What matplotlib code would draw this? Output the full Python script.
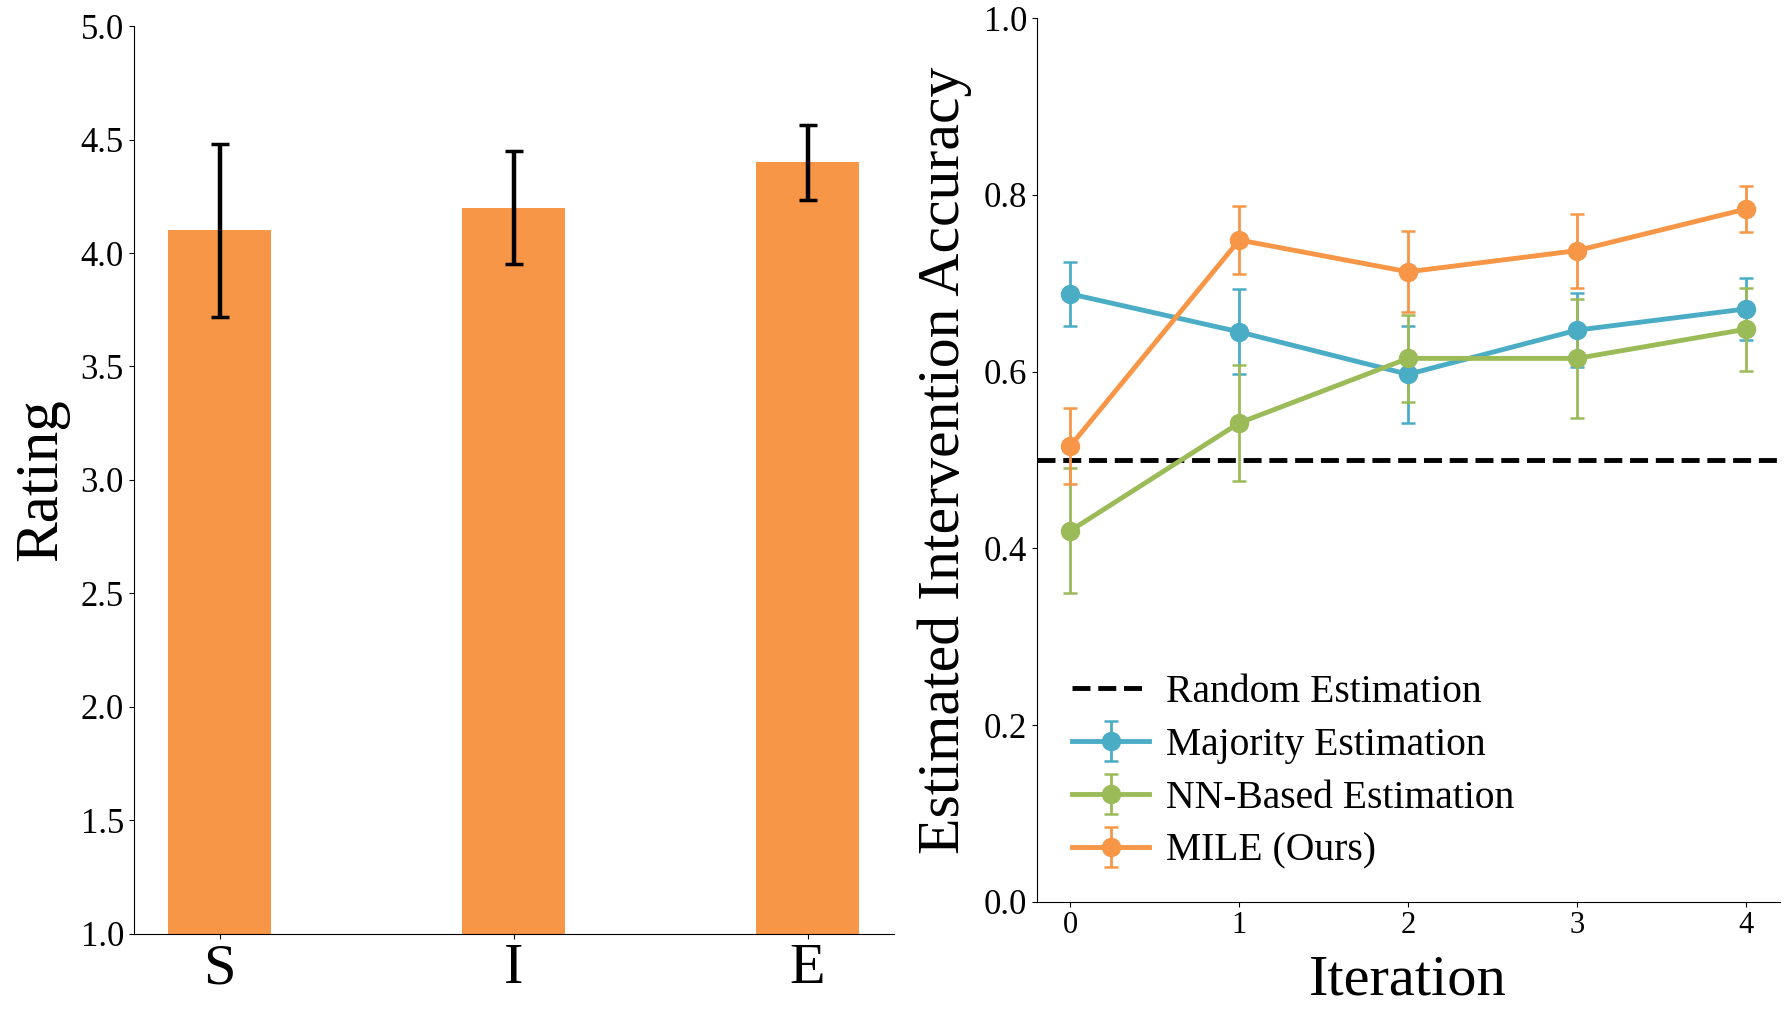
import matplotlib
matplotlib.use('Agg')
import matplotlib.pyplot as plt
import numpy as np

plt.rcParams['font.family'] = ['Liberation Serif', 'DejaVu Serif']

# left panel: user ratings
categories = ['S', 'I', 'E']
ratings = [4.1, 4.2, 4.4]
rating_err = [0.38, 0.25, 0.165]

# right panel: estimated intervention accuracy per iteration
iterations = [0, 1, 2, 3, 4]
random_est = 0.5
majority = [0.688, 0.645, 0.597, 0.647, 0.671]
majority_err = [0.036, 0.048, 0.055, 0.042, 0.035]
nn_based = [0.420, 0.542, 0.615, 0.615, 0.648]
nn_err = [0.071, 0.066, 0.049, 0.067, 0.047]
mile = [0.516, 0.749, 0.713, 0.737, 0.784]
mile_err = [0.043, 0.038, 0.046, 0.042, 0.026]

orange = '#F79646'
blue = '#4BACC6'
green = '#9BBB59'

fig = plt.figure(figsize=(17.92, 10.14), dpi=100)

ax1 = fig.add_axes([0.0746, 0.0792, 0.4241, 0.895])
x = np.arange(len(categories))
ax1.bar(x, ratings, width=0.35, color=orange, yerr=rating_err,
        error_kw=dict(ecolor='black', elinewidth=3.2, capsize=6.5, capthick=2.5),
        bottom=0)
ax1.set_ylim(1, 5)
ax1.set_yticks(np.arange(1.0, 5.01, 0.5))
ax1.set_yticklabels(['%.1f' % v for v in np.arange(1.0, 5.01, 0.5)], fontsize=25)
ax1.set_xticks(x)
ax1.set_xticklabels(categories, fontsize=42)
ax1.set_ylabel('Rating', fontsize=44, labelpad=8)
ax1.spines['top'].set_visible(False)
ax1.spines['right'].set_visible(False)

ax2 = fig.add_axes([0.5785, 0.1107, 0.4146, 0.8713])
h0 = ax2.axhline(random_est, color='black', ls='--', lw=3.5, label='Random Estimation')
series = [(majority, majority_err, blue, 'Majority Estimation'),
          (nn_based, nn_err, green, 'NN-Based Estimation'),
          (mile, mile_err, orange, 'MILE (Ours)')]
handles = [h0]
for vals, errs, c, lab in series:
    h = ax2.errorbar(iterations, vals, yerr=errs, color=c, lw=3.5, marker='o',
                     markersize=13, elinewidth=2, capsize=5, capthick=1.8, label=lab)
    handles.append(h)
ax2.set_xlim(-0.2, 4.2)
ax2.set_ylim(0, 1.0)
ax2.set_yticks(np.arange(0, 1.01, 0.2))
ax2.set_yticklabels(['%.1f' % v for v in np.arange(0, 1.01, 0.2)], fontsize=25)
ax2.set_xticks(iterations)
ax2.set_xticklabels([str(i) for i in iterations], fontsize=22)
ax2.set_xlabel('Iteration', fontsize=42, labelpad=10)
ax2.set_ylabel('Estimated Intervention Accuracy', fontsize=43, labelpad=8)
ax2.spines['top'].set_visible(False)
ax2.spines['right'].set_visible(False)
ax2.legend(handles=handles, loc='lower left', bbox_to_anchor=(0.0, -0.004),
           frameon=False, fontsize=28.5, handlelength=1.95, handletextpad=0.42,
           labelspacing=0.4)

fig.savefig('out.png', dpi=100)
